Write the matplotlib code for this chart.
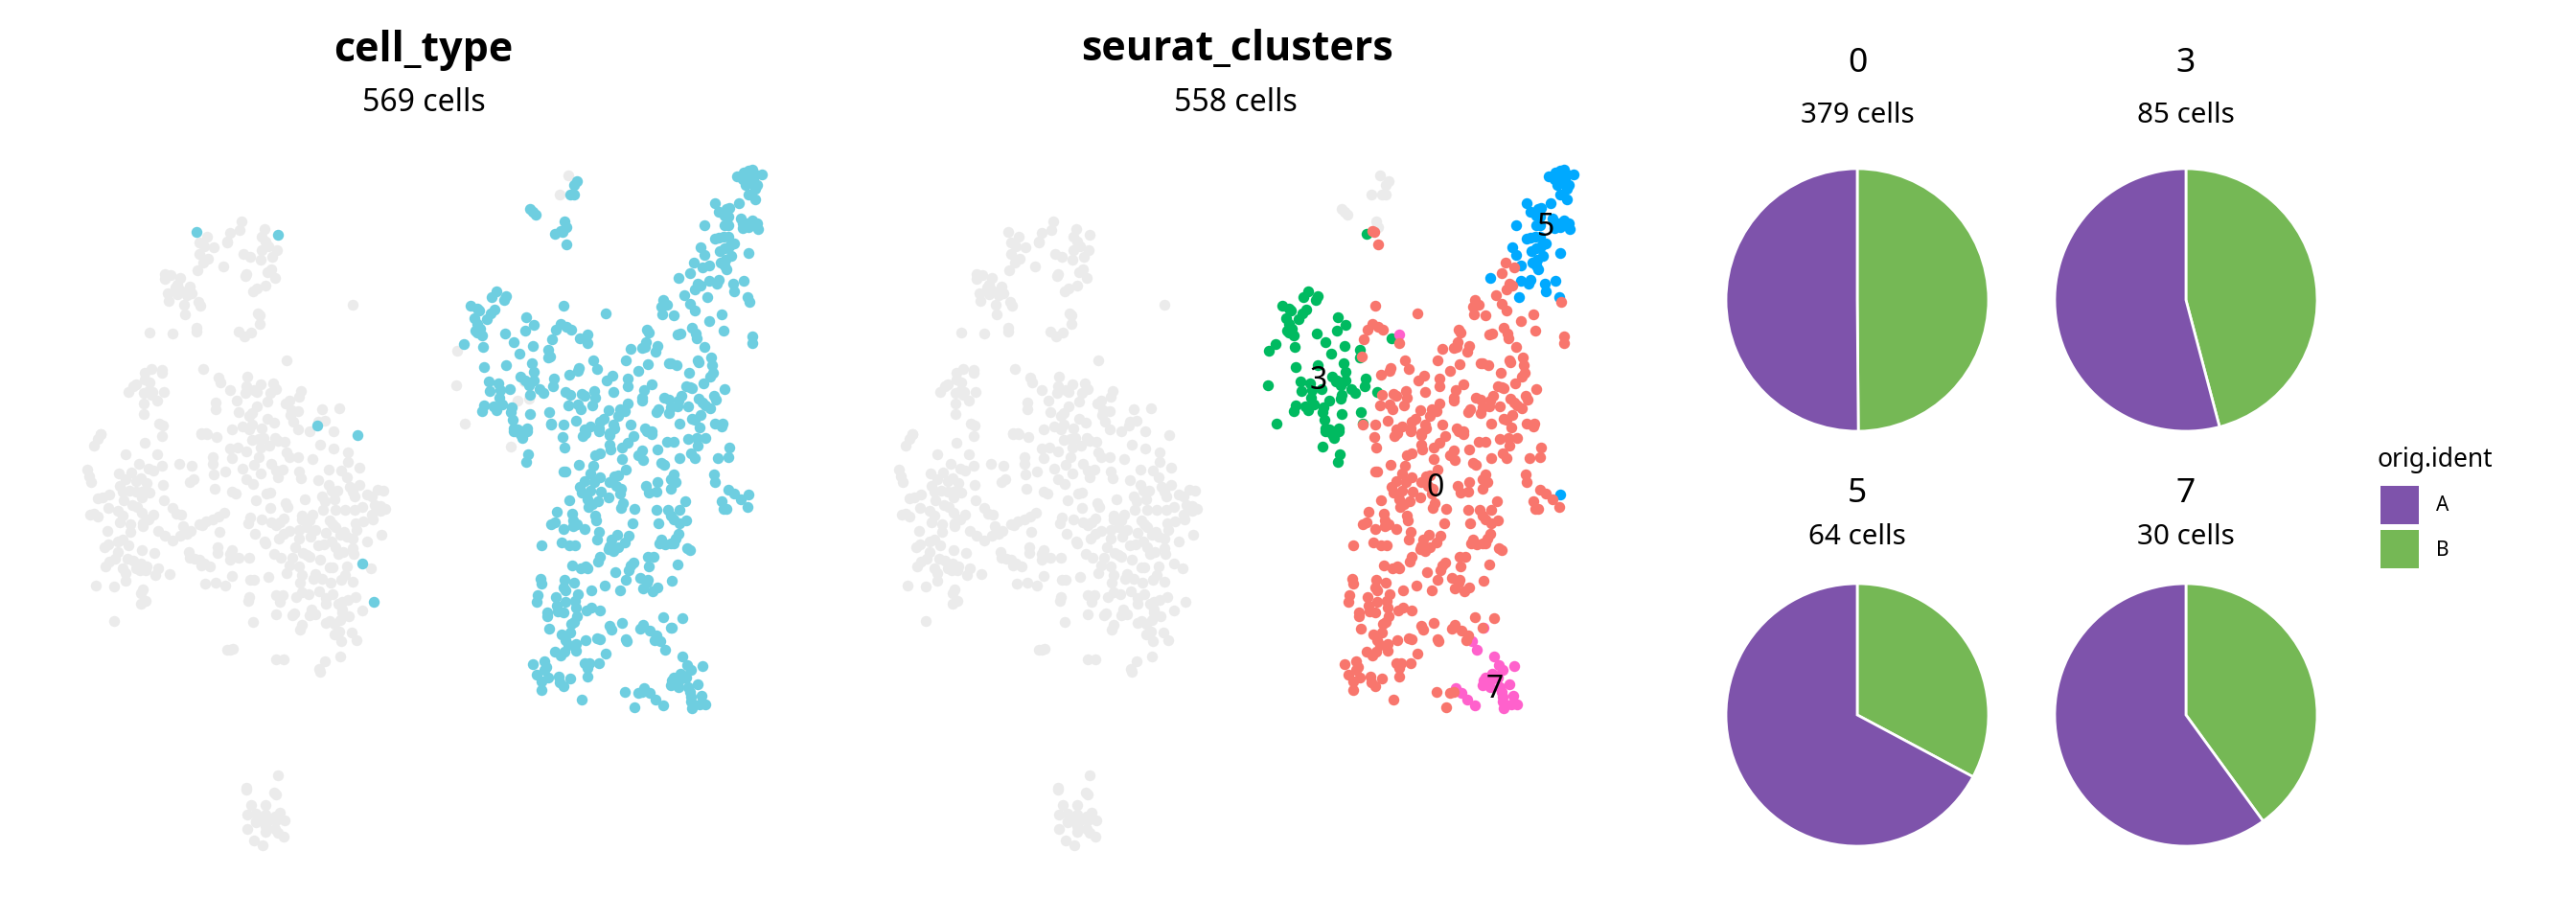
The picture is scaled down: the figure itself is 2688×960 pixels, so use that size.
import numpy as np
import matplotlib
matplotlib.use("Agg")
import matplotlib.pyplot as plt
from matplotlib.patches import Patch

plt.rcParams['font.family'] = ['Noto Sans', 'DejaVu Sans']

W, H = 2688, 960

# grey cloud (upper crop / lower crop of the first panel)
other_upper = [(575,243),(570,270),(540,280),(530,305),(532,310),(468,291),(443,308),(460,320),(488,323),(443,345),(470,360),(455,373),(437,397),(519,385),(647,267),(640,290),(650,305),(660,322),(640,333),(687,332),(672,353),(637,363),(583,345),(602,353),(590,407),(589,415),(656,402),(670,394),(682,419),(650,445),(625,453),(611,461),(336,407),(355,412),(335,423),(383,420),(375,440),(415,447),(370,450),(385,460),(345,467),(375,470),(405,475),(420,468),(347,492),(397,503),(440,494),(446,508),(398,535),(627,532),(632,537),(633,564),(924,503),(287,590),(360,593),(434,577),(434,587),(568,588),(584,602),(607,590),(718,677),(455,704),(295,706),(273,718),(327,708),(327,717),(273,737),(288,746),(247,752),(237,760),(222,777),(270,780),(285,775),(298,778),(333,778),(295,785),(311,803),(269,814),(271,845),(319,876),(331,882),(135,908),(504,732),(510,748),(593,729),(590,760),(587,780),(635,753),(615,770),(625,777),(539,771),(675,750),(683,767),(665,780),(657,806),(763,773),(756,791),(727,803),(715,814),(562,803),(494,810),(496,830),(567,839),(623,822),(610,842),(600,853),(733,835),(753,837),(730,848),(737,870),(827,831),(882,829),(838,866),(816,870),(656,862),(678,872),(547,893),(580,885),(610,880),(638,890),(600,895),(752,895),(790,900),(863,900),(450,905),(465,905)]
other_lower = [(135,8),(125,25),(113,45),(328,14),(273,37),(450,8),(468,8),(497,17),(610,28),(630,25),(645,20),(680,20),(690,30),(710,32),(635,50),(663,44),(822,42),(863,54),(541,55),(565,50),(592,62),(909,65),(214,73),(312,72),(546,84),(631,82),(718,65),(725,82),(752,82),(797,86),(486,82),(487,102),(380,102),(421,107),(326,108),(255,103),(615,104),(669,101),(908,95),(579,116),(525,127),(490,136),(637,133),(706,121),(683,122),(849,119),(887,123),(946,115),(757,127),(92,120),(100,140),(106,158),(193,132),(231,130),(285,118),(300,123),(690,143),(762,146),(906,143),(590,150),(612,164),(817,153),(415,160),(425,150),(214,150),(245,157),(262,147),(280,163),(329,168),(194,170),(848,167),(945,167),(916,175),(491,181),(875,185),(857,187),(1001,183),(1021,185),(545,190),(558,195),(653,195),(666,192),(205,190),(225,185),(245,190),(265,190),(287,192),(925,190),(930,203),(969,198),(985,205),(827,204),(126,211),(142,208),(161,198),(208,215),(264,208),(333,215),(620,217),(775,212),(867,213),(837,220),(713,225),(720,236),(234,232),(250,237),(160,239),(359,240),(665,239),(830,246),(869,245),(901,245),(930,247),(953,238),(993,230),(1010,235),(1026,243),(1012,250),(190,250),(263,254),(205,264),(299,261),(101,262),(115,258),(127,267),(371,258),(388,260),(522,255),(505,268),(486,275),(465,283),(443,290),(452,295),(603,270),(597,287),(640,275),(707,273),(670,285),(685,293),(695,285),(766,265),(765,275),(797,260),(790,280),(852,278),(860,290),(985,260),(987,277),(956,282),(932,288),(284,277),(267,288),(266,298),(194,286),(228,290),(392,297),(229,315),(155,312),(315,311),(337,326),(385,328),(418,311),(405,320),(507,315),(360,343),(780,300),(755,310),(727,313),(708,320),(693,335),(757,335),(792,330),(808,310),(839,317),(870,300),(897,315),(886,325),(905,330),(924,335),(937,310),(619,321),(1014,323),(970,344),(648,345),(652,352),(188,345),(204,340),(222,357),(146,362),(160,353),(817,358),(835,355),(858,346),(870,362),(743,363),(923,367),(500,362),(501,382),(410,378),(545,373),(540,385),(264,372),(302,382),(188,378),(180,400),(161,407),(678,383),(768,380),(780,388),(790,392),(895,377),(880,385),(927,385),(700,397),(735,396),(568,395),(599,395),(539,402),(413,396),(430,400),(445,402),(460,415),(220,400),(237,405),(260,415),(280,423),(822,403),(450,420),(478,424),(151,423),(204,428),(245,428),(257,435),(275,435),(316,430),(725,420),(757,423),(907,422),(852,427),(862,427),(980,429),(212,445),(351,448),(307,451),(718,444),(766,450),(808,448),(899,451),(545,453),(661,457),(604,464),(615,466),(802,462),(827,462),(887,465),(760,473),(856,474),(925,471),(213,467),(463,477),(496,475),(526,483),(121,482),(177,487),(267,495),(262,507),(818,502),(860,510),(683,513),(706,513),(765,505),(787,510),(747,518),(840,522),(933,519),(910,528),(890,535),(601,520),(597,532),(695,533),(840,540),(880,540),(275,532),(262,540),(795,557),(892,557),(955,561),(176,593),(684,574),(742,570),(735,577),(808,572),(788,577),(890,568),(912,580),(885,590),(613,596),(853,595),(839,600),(866,604),(765,606),(760,622),(920,629),(882,627),(867,635),(889,658),(936,655),(540,684),(530,685),(550,681),(685,713),(708,714),(836,720),(886,704),(820,745),(822,752),(689,1076),(591,1117),(592,1122),(678,1130),(685,1137),(606,1171),(650,1170),(594,1199),(695,1193),(620,1197),(650,1200),(680,1205),(620,1220),(640,1215),(660,1218),(685,1218),(711,1218),(622,1225),(650,1235),(595,1245),(650,1255),(680,1245),(690,1258),(707,1268),(615,1280),(642,1296)]
stray_upper = [(436,277),(690,286),(812,882)]
stray_lower = [(939,12),(955,413),(991,533)]

# clusters
c5_upper = [(947,101),(970,90),(985,85),(997,82),(1027,96),(975,100),(990,100),(1005,95),(965,110),(985,115),(1000,110),(975,128),(1000,125),(1012,128),(1005,140),(985,160),(1005,175),(953,186),(880,185),(925,200),(915,205),(890,214),(910,225),(920,228),(960,235),(995,240),(1010,250),(1013,266),(985,260),(965,265),(980,250),(847,254),(908,254),(920,254),(965,250),(922,290),(905,292),(880,297),(890,294),(940,311),(925,320),(910,328),(895,335),(835,325),(846,347),(985,343),(930,352),(912,362),(898,372),(910,380),(914,394),(860,380),(970,428),(860,430),(890,425),(885,438),(937,438),(940,462),(765,420),(855,480),(980,480)]
c5_lower = [(835,198)]
c0_upper = [(812,372),(840,386),(800,404),(825,438),(835,443),(815,455),(783,474),(718,488),(730,504),(710,510),(714,535),(750,538),(800,502),(815,522),(988,496),(901,533),(862,556),(807,575),(905,586),(820,594),(770,594),(762,596),(822,610),(845,635),(666,582),(672,590),(663,622),(660,635),(652,640),(700,632),(692,650),(615,643),(405,507),(537,530),(395,563),(415,572),(430,582),(382,582),(368,612),(481,625),(995,603),(995,623),(362,667),(499,679),(510,704),(453,702),(450,710),(424,722),(600,679),(639,710),(668,690),(558,726),(540,740),(606,735),(605,760),(682,752),(657,770),(742,687),(735,688),(760,692),(825,678),(827,685),(868,668),(870,692),(873,717),(865,728),(798,716),(843,750),(790,758),(800,762),(808,765),(908,767),(875,790),(883,802),(827,798),(840,810),(850,818),(864,828),(720,795),(735,800),(775,788),(765,805),(762,822),(795,822),(740,825),(735,843),(703,830),(695,840),(650,795),(650,805),(607,813),(598,838),(583,832),(575,853),(545,833),(530,860),(520,870),(560,880),(563,890),(615,878),(502,775),(503,795),(470,790),(463,783),(425,785),(421,820),(450,815),(460,832),(494,819),(560,778),(444,868),(404,878),(367,880),(490,885),(470,895),(515,890),(660,890),(680,900),(767,875),(808,860),(833,850),(815,865),(830,887),(880,877),(903,875),(900,885),(396,272),(402,276),(413,315)]
c0_lower = [(253,17),(258,50),(315,15),(325,5),(365,0),(400,12),(400,5),(475,15),(515,0),(530,8),(400,42),(402,58),(437,52),(455,37),(578,33),(600,33),(550,57),(500,60),(490,75),(505,90),(645,25),(672,22),(700,22),(675,45),(619,83),(655,70),(665,85),(737,85),(773,50),(772,80),(355,75),(370,70),(437,88),(304,105),(348,108),(450,120),(560,100),(570,105),(340,133),(255,127),(262,125),(727,136),(730,160),(370,143),(415,140),(425,137),(400,160),(320,155),(350,160),(420,170),(435,180),(307,175),(340,185),(312,193),(373,188),(397,207),(433,195),(513,170),(550,158),(545,190),(522,192),(600,135),(590,150),(605,160),(590,180),(770,183),(788,195),(810,212),(830,237),(750,218),(755,242),(765,243),(635,218),(272,217),(330,212),(362,220),(345,228),(332,238),(440,226),(435,240),(477,243),(545,247),(582,247),(618,247),(590,265),(600,275),(638,278),(617,288),(234,252),(282,257),(353,265),(358,278),(552,288),(470,287),(215,290),(228,284),(285,280),(297,290),(285,298),(320,305),(256,306),(365,314),(360,338),(424,325),(405,340),(458,327),(447,347),(615,320),(605,335),(600,350),(556,350),(573,355),(590,352),(560,340),(400,360),(410,375),(425,362),(395,368),(248,348),(272,357),(292,357),(186,357),(642,365),(650,373),(368,393),(363,408),(520,392),(537,393),(522,423),(612,417),(283,420),(310,428),(330,430),(325,424),(475,410),(465,420),(458,435),(417,440),(495,460),(520,465),(515,475),(451,466),(503,493),(535,500),(550,488),(595,467),(184,462),(187,477),(258,466),(289,475),(262,497),(255,490),(383,483),(342,497),(433,497),(174,513),(170,534),(232,520),(260,535),(300,510),(290,530),(295,552),(233,545),(237,565),(256,568),(205,568),(203,578),(328,562),(342,553),(370,562),(297,580),(288,598),(278,602),(437,600),(400,610),(405,620),(505,605),(495,617),(525,625),(545,640),(540,655),(568,583),(627,586),(590,615),(210,618),(277,630),(250,637),(262,655),(325,653),(360,648),(368,652),(450,650),(452,658),(295,665),(270,670),(258,690),(295,687),(228,690),(245,703),(387,697),(160,730),(195,720),(200,737),(195,748),(320,725),(335,727),(330,742),(367,725),(170,762),(208,770),(185,782),(240,768),(243,785),(255,797),(275,773),(330,769),(187,810),(313,841),(446,815),(490,818),(500,815),(478,863)]
c3_upper = [(195,461),(180,480),(225,477),(218,488),(113,506),(135,515),(140,522),(190,518),(178,530),(165,550),(125,545),(135,565),(130,585),(145,580),(150,600),(135,590),(92,628),(152,636),(289,544),(311,567),(285,586),(221,594),(248,622),(308,632),(267,658),(358,645),(356,670),(155,700),(226,693),(307,686),(312,713),(270,728),(285,740),(313,740),(296,755),(375,735),(373,760),(171,745),(200,750),(208,770),(173,775),(238,768),(330,767),(343,780),(300,785),(410,776),(205,795),(155,820),(150,838),(185,823),(196,835),(213,815),(243,825),(240,840),(300,847),(360,840),(247,865),(365,875),(290,890),(248,890),(262,895),(275,900),(455,608),(379,282)]
c3_lower = [(120,10),(125,22),(100,0),(140,0),(143,71),(137,95)]
# green in the cluster panel, grey in the cell_type panel
c3_grey_upper = [(72,648),(68,756),(97,875),(260,805),(298,797),(281,745)]
c3_grey_lower = [(90,47)]
c7_upper = [(480,597)]
c7_lower = [(593,615),(558,657),(572,685),(627,704),(643,732),(655,748),(689,735),(620,760),(630,765),(600,770),(595,780),(590,795),(610,790),(625,775),(615,800),(640,770),(645,800),(650,815),(655,830),(655,845),(676,792),(688,828),(700,855),(680,855),(658,868),(508,803),(525,820),(543,841),(568,857)]
# no cluster shown, but part of the cell type
typed_noclust = [(448,118),(438,128),(426,158),(438,160),(301,205),(309,212),(317,223),(408,242),(414,262)]
# grey in both panels
grey_both = [(421,100),(394,158)]

# ---- Pie data
pie_names = ['0', '3', '5', '7']
pie_totals = [379, 85, 64, 30]
pie_a = [190, 46, 43, 18]
pie_b = [189, 39, 21, 12]
ident_names = ['A', 'B']
ident_colors = ['#7E53AB', '#75B855']

panel_titles = ['cell_type', 'seurat_clusters']
panel_counts = ['569 cells', '558 cells']
cluster_labels = ['0', '3', '5', '7']
label_xy = [(651, 510), (529, 398), (766, 237), (713, 719)]

GREY = '#EBEBEB'; CYAN = '#6ECEE0'
C0, C3, C5, C7 = '#F8766D', '#00BA60', '#00A9FF', '#FF61CC'

# crop readings -> shared embedding units
def emb_first(p, y0):
    a = np.array(p, float); return np.c_[60 + a[:, 0] / 3, y0 + a[:, 1] / 3]
def emb_top(p):
    a = np.array(p, float); return np.c_[453 + a[:, 0] / 3, 150 + a[:, 1] / 3]
def emb_bot(p):
    a = np.array(p, float); return np.c_[503 + a[:, 0] / 3, 450 + a[:, 1] / 3]

cloud = np.vstack([emb_first(other_upper, 150), emb_first(other_lower, 450)])
stray = np.vstack([emb_first(stray_upper, 150), emb_first(stray_lower, 450)])
c0 = np.vstack([emb_top(c0_upper), emb_bot(c0_lower)])
c3 = np.vstack([emb_top(c3_upper), emb_bot(c3_lower)])
c3g = np.vstack([emb_top(c3_grey_upper), emb_bot(c3_grey_lower)])
c5 = np.vstack([emb_top(c5_upper), emb_bot(c5_lower)])
c7 = np.vstack([emb_top(c7_upper), emb_bot(c7_lower)])
nocl = emb_top(typed_noclust)
both = emb_top(grey_both)

fig = plt.figure(figsize=(W / 100, H / 100), dpi=100, facecolor='white')

def panel(x0):
    ax = fig.add_axes([x0 / W, 0, 880 / W, 1])
    ax.set_xlim(0, 880); ax.set_ylim(960, 0); ax.axis('off'); ax.patch.set_alpha(0)
    return ax

S = 68
ax1 = panel(0)
ax1.scatter(*np.vstack([cloud, both, c3g]).T, s=S, c=GREY, lw=0)
ax1.scatter(*np.vstack([stray, c0, c3, c5, c7, nocl]).T, s=S, c=CYAN, lw=0)

ax2 = panel(847)
ax2.scatter(*np.vstack([cloud, stray, both, nocl]).T, s=S, c=GREY, lw=0)
ax2.scatter(*np.vstack([c3, c3g]).T, s=S, c=C3, lw=0)
ax2.scatter(*c5.T, s=S, c=C5, lw=0)
ax2.scatter(*c7.T, s=S, c=C7, lw=0)
ax2.scatter(*c0.T, s=S, c=C0, lw=0)
for t, (x, y) in zip(cluster_labels, label_xy):
    ax2.text(x, y, t, fontsize=23, ha='center', va='center', color='black')

for cx, t in zip([442, 1291], panel_titles):
    fig.text(cx / W, 1 - 52 / H, t, fontsize=31, fontweight='bold', family='Open Sans',
             ha='center', va='center')
for cx, n in zip([442, 1289], panel_counts):
    fig.text(cx / W, 1 - 108 / H, n, fontsize=23, ha='center', va='center')

# pies
centers = [(1938, 313), (2281, 313), (1938, 746), (2281, 746)]
R = 137; pad = 1.02
title_y = [66, 66, 515, 515]
sub_y = [120, 120, 561, 561]
for i, (cx, cy) in enumerate(centers):
    size = 2 * R * pad
    ax = fig.add_axes([(cx - size / 2) / W, 1 - (cy + size / 2) / H, size / W, size / H])
    ax.pie([pie_b[i], pie_a[i]], colors=[ident_colors[1], ident_colors[0]], startangle=90,
           counterclock=False, radius=1, wedgeprops=dict(edgecolor='white', linewidth=2))
    ax.set_xlim(-pad, pad); ax.set_ylim(-pad, pad)
    fig.text(cx / W, 1 - title_y[i] / H, pie_names[i], fontsize=25.5, ha='center', va='center')
    fig.text(cx / W, 1 - sub_y[i] / H, f'{pie_totals[i]} cells', fontsize=21.3, ha='center', va='center')

handles = [Patch(facecolor=c, edgecolor='none', label=n) for c, n in zip(ident_colors, ident_names)]
leg = fig.legend(handles=handles, loc='upper left', bbox_to_anchor=(2481 / W, 1 - 466 / H),
                 frameon=False, fontsize=15, title='orig.ident', title_fontsize=19,
                 handlelength=1.92, handleheight=2.58, labelspacing=0.29, handletextpad=0.87,
                 borderpad=0, borderaxespad=0)
leg._legend_box.align = 'left'
leg._legend_box.sep = 7.25
leg._legend_handle_box.pad = 2.2

fig.savefig('out.png', dpi=100)
